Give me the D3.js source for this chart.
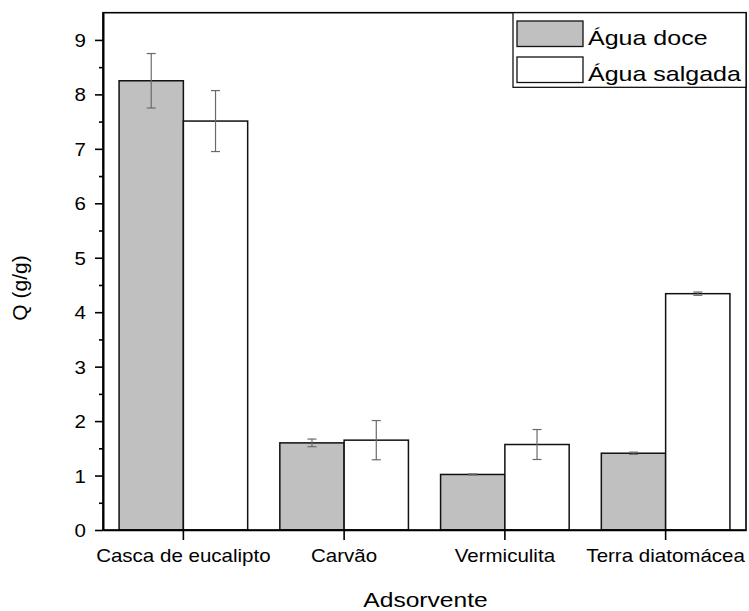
<!DOCTYPE html>
<html>
<head>
<meta charset="utf-8">
<script src="https://cdn.jsdelivr.net/npm/d3@7"></script>
<style>
  body { margin: 0; background: #fff; }
  text { font-family: "Liberation Sans", Arial, sans-serif; fill: #000; }
</style>
</head>
<body>
<div id="barchart"></div>
<script>
// data
var categories = ["Casca de eucalipto", "Carvão", "Vermiculita", "Terra diatomácea"];
var series = ["Água doce", "Água salgada"];
var aguaDoce = [8.25, 1.60, 1.02, 1.41];
var aguaDoceErr = [0.50, 0.07, 0.01, 0.02];
var aguaSalgada = [7.51, 1.65, 1.57, 4.34];
var aguaSalgadaErr = [0.56, 0.36, 0.275, 0.03];
var yTicks = [0, 1, 2, 3, 4, 5, 6, 7, 8, 9];
var yMinor = [0.5, 1.5, 2.5, 3.5, 4.5, 5.5, 6.5, 7.5, 8.5];

var fills = ["#c0c0c0", "#ffffff"];
var sx = 1.14; // the original is stretched a bit horizontally

var margin = {top: 12.7, right: 3, bottom: 81, left: 103},
    width = 749 - margin.left - margin.right,
    height = 611 - margin.top - margin.bottom;

var svg = d3.select("#barchart")
  .append("svg")
  .attr("width", width + margin.left + margin.right)
  .attr("height", height + margin.top + margin.bottom)
  .append("g")
  .attr("transform", "translate(" + margin.left + "," + margin.top + ")");

var data = categories.map(function(c, i) {
  return {cat: c, vals: [
    {s: 0, v: aguaDoce[i], e: aguaDoceErr[i]},
    {s: 1, v: aguaSalgada[i], e: aguaSalgadaErr[i]}
  ]};
});

// scales
var x = d3.scaleBand()
  .domain(categories)
  .range([0, width])
  .paddingInner(0.2)
  .paddingOuter(0.1);

var xs = d3.scaleBand()
  .domain([0, 1])
  .range([0, x.bandwidth()]);

var y = d3.scaleLinear()
  .domain([0, 9.5])
  .range([height, 0]);

// bars
var groups = svg.selectAll(".grp")
  .data(data)
  .enter()
  .append("g")
  .attr("transform", function(d) { return "translate(" + x(d.cat) + ",0)"; });

groups.selectAll("rect")
  .data(function(d) { return d.vals; })
  .enter()
  .append("rect")
  .attr("x", function(d) { return xs(d.s); })
  .attr("y", function(d) { return y(d.v); })
  .attr("width", xs.bandwidth())
  .attr("height", function(d) { return y(0) - y(d.v); })
  .attr("fill", function(d) { return fills[d.s]; })
  .attr("stroke", "#111")
  .attr("stroke-width", 1.5);

// error bars
var eb = groups.selectAll(".err")
  .data(function(d) { return d.vals; })
  .enter()
  .append("g")
  .attr("stroke", "#6a6a6a")
  .attr("stroke-width", 1.2);

eb.append("line")
  .attr("x1", function(d) { return xs(d.s) + xs.bandwidth() / 2; })
  .attr("x2", function(d) { return xs(d.s) + xs.bandwidth() / 2; })
  .attr("y1", function(d) { return y(d.v + d.e); })
  .attr("y2", function(d) { return y(d.v - d.e); });

[1, -1].forEach(function(sign) {
  eb.append("line")
    .attr("x1", function(d) { return xs(d.s) + xs.bandwidth() / 2 - 4.5; })
    .attr("x2", function(d) { return xs(d.s) + xs.bandwidth() / 2 + 4.5; })
    .attr("y1", function(d) { return y(d.v + sign * d.e); })
    .attr("y2", function(d) { return y(d.v + sign * d.e); });
});

// frame
svg.append("rect")
  .attr("x", 0).attr("y", 0)
  .attr("width", width).attr("height", height)
  .attr("fill", "none")
  .attr("stroke", "#000")
  .attr("stroke-width", 1.6);

// X axis
var xAxis = svg.append("g")
  .attr("transform", "translate(0," + height + ")")
  .call(d3.axisBottom(x).tickSizeOuter(0).tickSizeInner(10).tickPadding(4));
xAxis.select(".domain").attr("stroke-width", 1.6);
xAxis.selectAll(".tick line").attr("stroke-width", 1.6);
xAxis.selectAll("text")
  .attr("font-size", 18)
  .attr("font-family", "Liberation Sans, Arial, sans-serif")
  .attr("y", 0).attr("dy", 0)
  .attr("transform", "translate(0,31.5) scale(" + sx + ",1)");

// Y axis
var yAxis = svg.append("g")
  .call(d3.axisLeft(y).tickValues(yTicks).tickFormat(d3.format("d")).tickSizeOuter(0).tickSizeInner(8));
yAxis.select(".domain").attr("stroke-width", 2);
yAxis.selectAll(".tick line").attr("stroke-width", 1.6);
yAxis.selectAll("text")
  .attr("font-size", 18)
  .attr("font-family", "Liberation Sans, Arial, sans-serif")
  .attr("x", 0)
  .attr("dy", "0.36em")
  .attr("transform", "translate(-17,0) scale(" + sx + ",1)");

svg.append("g")
  .call(d3.axisLeft(y).tickValues(yMinor).tickFormat("").tickSizeOuter(0).tickSizeInner(4))
  .call(function(g) { g.select(".domain").remove(); })
  .selectAll(".tick line").attr("stroke-width", 1.6);

// axis titles
svg.append("text")
  .attr("transform", "translate(" + (width / 2 + 1) + "," + (611 - margin.top - 4.5) + ") scale(1.2,1)")
  .attr("text-anchor", "middle")
  .attr("font-size", 20.5)
  .text("Adsorvente");

svg.append("text")
  .attr("transform", "translate(" + (27 - margin.left) + "," + (288 - margin.top) + ") rotate(-90)")
  .attr("text-anchor", "middle")
  .attr("font-size", 21)
  .text("Q (g/g)");

// legend
var leg = svg.append("g")
  .attr("transform", "translate(" + (513 - margin.left) + ",0)");
leg.append("rect")
  .attr("x", 0).attr("y", 0)
  .attr("width", width - (513 - margin.left)).attr("height", 74.6)
  .attr("fill", "#fff")
  .attr("stroke", "#000")
  .attr("stroke-width", 1.2);

var items = leg.selectAll(".item")
  .data(series)
  .enter()
  .append("g")
  .attr("transform", function(d, i) { return "translate(4," + (8.3 + i * 36) + ")"; });

items.append("rect")
  .attr("width", 66).attr("height", 25.5)
  .attr("fill", function(d, i) { return fills[i]; })
  .attr("stroke", "#111")
  .attr("stroke-width", 1.3);

items.append("text")
  .attr("transform", "translate(71,24) scale(1.22,1)")
  .attr("font-size", 20.5)
  .text(function(d) { return d; });
</script>
</body>
</html>
